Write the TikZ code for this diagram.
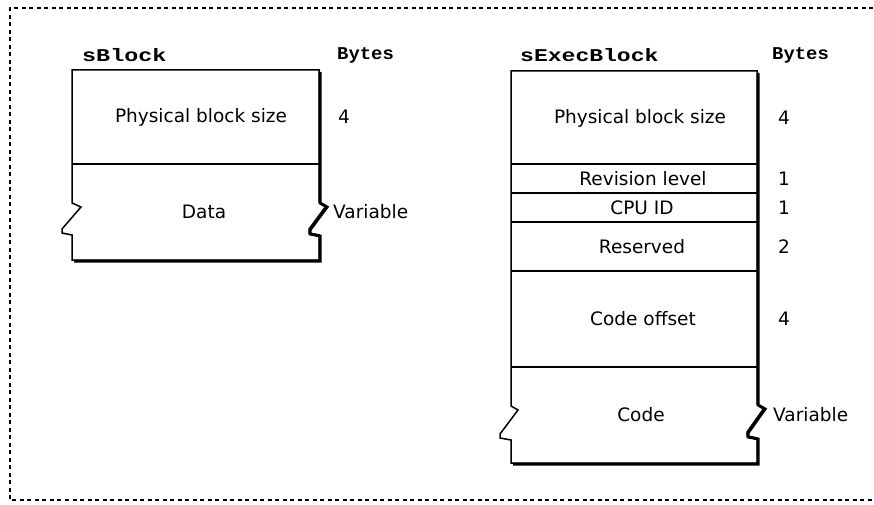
\documentclass[tikz,border=0pt]{standalone}
\usepackage{fontspec}
\usepackage{graphicx}
\setmainfont{DejaVu Sans}
\newfontfamily\hdrfont{Liberation Mono}
\tikzset{
  boxline/.style={line width=1.5pt, line join=miter},
  shadowline/.style={line width=3pt, line join=miter},
  divline/.style={line width=1.2pt},
  frameline/.style={line width=1.3pt, dash pattern=on 4pt off 3.5pt},
  lbl/.style={inner sep=0pt, font=\fontsize{18.5}{20}\selectfont},
  num/.style={inner sep=0pt, anchor=west, font=\fontsize{18.5}{20}\selectfont},
  hdr/.style={inner sep=0pt, anchor=west, font=\hdrfont\bfseries\fontsize{18}{20}\selectfont},
}
\begin{document}
\begin{tikzpicture}[x=1pt,y=-1pt]
\useasboundingbox (0,0) rectangle (874,505);
% dashed frame
\draw[frameline] (873,8) -- (10,8) -- (10,500) -- (873,500);

% ---------- left block ----------
\draw[boxline] (72,70) -- (319,70) -- (319,202) -- (326,206) -- (309,229) -- (309,233) -- (319,235) -- (319,260)
  -- (72,260) -- (72,235) -- (62,233) -- (62,229) -- (81,207) -- (72,203) -- cycle;
\draw[shadowline, shift={(1,1)}] (319,71) -- (319,202) -- (326,206) -- (309,229) -- (309,233) -- (319,235) -- (319,260) -- (73,260);
\draw[divline] (72,164) -- (319,164);

\node[hdr] (hs) at (82,55.5) {\scalebox{1.3}[1]{sBlock}};
\node[hdr] (hb1) at (337,55.5) {\scalebox{1.05}[1]{Bytes}};
\node[lbl] (pl) at (201,117) {Physical block size};
\node[lbl] (dl) at (204,212) {Data};
\node[num] (n1) at (338,117) {4};
\node[num] (v1) at (333,212) {Variable};

% ---------- right block ----------
\draw[boxline] (511,71) -- (757,71) -- (757,404) -- (764,408) -- (747,432) -- (747,436) -- (757,438) -- (757,463)
  -- (511,463) -- (511,440) -- (500,438) -- (500,434) -- (518,410) -- (511,406) -- cycle;
\draw[shadowline, shift={(1,1)}] (757,72) -- (757,404) -- (764,408) -- (747,432) -- (747,436) -- (757,438) -- (757,463) -- (512,463);
\foreach \yy in {164,193,222,271,367} \draw[divline] (511,\yy) -- (757,\yy);

\node[hdr] (he) at (520,55) {\scalebox{1.28}[1]{sExecBlock}};
\node[hdr] (hb2) at (772,55) {\scalebox{1.05}[1]{Bytes}};
\node[lbl] (pr) at (640,118) {Physical block size};
\node[lbl] (rv) at (643,179) {Revision level};
\node[lbl] (cp) at (642,208) {CPU ID};
\node[lbl] (rs) at (642,247) {Reserved};
\node[lbl] (co) at (643,319) {Code offset};
\node[lbl] (cd) at (641,415) {Code};
\node[num] (m1) at (778,118) {4};
\node[num] (m2) at (778,179) {1};
\node[num] (m3) at (778,208) {1};
\node[num] (m4) at (778,247) {2};
\node[num] (m5) at (778,319) {4};
\node[num] (v2) at (773,415) {Variable};
\end{tikzpicture}
\end{document}
